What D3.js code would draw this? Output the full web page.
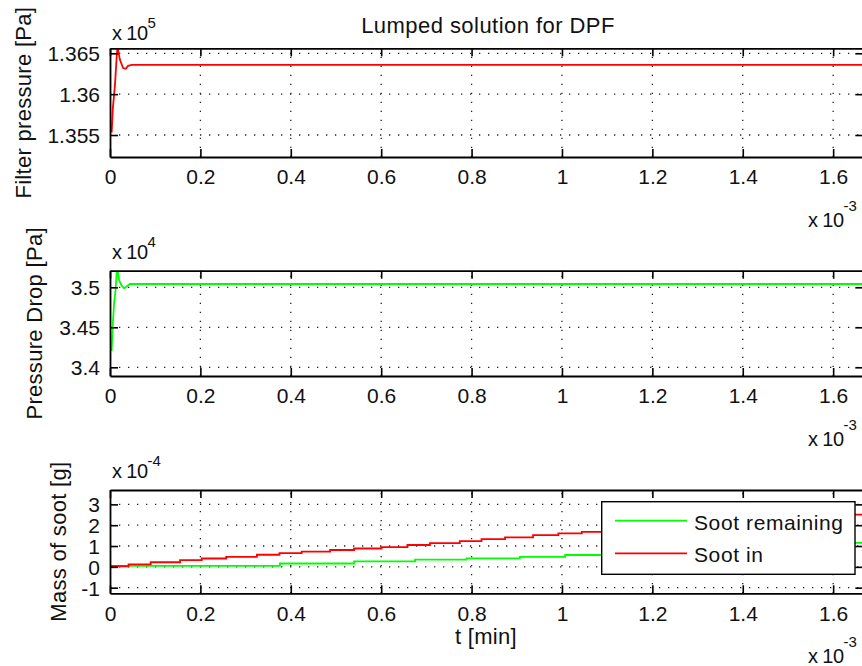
<!DOCTYPE html>
<html>
<head>
<meta charset="utf-8">
<script src="https://cdn.jsdelivr.net/npm/d3@7"></script>
<style>
  html, body { margin: 0; padding: 0; background: #fff; }
  svg { display: block; }
  text { font-family: "Liberation Sans", Arial, sans-serif; fill: #111; }
</style>
</head>
<body>
<svg id="fig" width="862" height="666"></svg>
<script>
// ---- data (time in units of 1e-3 min) ----
const xTicks = [0, 0.2, 0.4, 0.6, 0.8, 1.0, 1.2, 1.4, 1.6];
const tEnd = 1.6667;

// Filter pressure, x 1e5 Pa
const pressureT = [0, 0.0038, 0.006, 0.011, 0.0148, 0.016, 0.017, 0.022, 0.029, 0.035, 0.040, 0.048, 1.6667];
const pressureV = [1.3554, 1.35542, 1.35808, 1.36114, 1.36461, 1.36543, 1.36567, 1.3642, 1.36319, 1.3631, 1.36347, 1.36357, 1.36357];
const pressureTicks = [1.355, 1.36, 1.365];

// Pressure drop, x 1e4 Pa
const dropT = [0, 0.0037, 0.006, 0.009, 0.012, 0.0148, 0.017, 0.020, 0.025, 0.031, 0.036, 0.044, 1.6667];
const dropV = [3.4216, 3.4216, 3.4508, 3.48, 3.4945, 3.5183, 3.5207, 3.5091, 3.5029, 3.4988, 3.5008, 3.5041, 3.5041];
const dropTicks = [3.4, 3.45, 3.5];

// Mass of soot, x 1e-4 g (piecewise constant between samples)
const sootInT = [0, 0.041, 0.090, 0.155, 0.203, 0.257, 0.325, 0.375, 0.424, 0.487, 0.540, 0.601, 0.658, 0.708, 0.774, 0.822, 0.874, 0.936, 0.992, 1.044, 1.10, 1.16, 1.22, 1.28, 1.34, 1.40, 1.46, 1.52, 1.58, 1.64, 1.6667];
const sootInV = [0.03, 0.12, 0.22, 0.32, 0.40, 0.48, 0.58, 0.66, 0.73, 0.81, 0.88, 0.95, 1.05, 1.14, 1.24, 1.33, 1.42, 1.52, 1.61, 1.68, 1.76, 1.85, 1.94, 2.03, 2.11, 2.19, 2.28, 2.36, 2.44, 2.51, 2.51];
const sootRemT = [0, 0.376, 0.540, 0.675, 0.789, 0.907, 1.007, 1.11, 1.22, 1.33, 1.44, 1.55, 1.62, 1.6667];
const sootRemV = [0.05, 0.16, 0.26, 0.35, 0.41, 0.48, 0.57, 0.66, 0.76, 0.86, 0.96, 1.06, 1.15, 1.15];
const sootTicks = [-1, 0, 1, 2, 3];

const legendLabels = ["Soot remaining", "Soot in"];

// ---- layout ----
const svg = d3.select("#fig");
const left = 110, right = 863.3;
const x = d3.scaleLinear().domain([0, tEnd]).range([left, right]);

const panels = [
  { top: 48.3, bottom: 157, domain: [1.35231, 1.36561], ticks: pressureTicks,
    series: [{ t: pressureT, v: pressureV, color: "#ff0000", step: false }],
    ylabel: "Filter pressure [Pa]", ylabelX: 31, exp: "5", expGap: 8 },
  { top: 270.7, bottom: 376, domain: [3.38913, 3.52075], ticks: dropTicks,
    series: [{ t: dropT, v: dropV, color: "#00ff00", step: false }],
    ylabel: "Pressure Drop [Pa]", ylabelX: 42, exp: "4", expGap: 12 },
  { top: 490, bottom: 593.3, domain: [-1.27, 3.69], ticks: sootTicks,
    series: [
      { t: sootRemT, v: sootRemV, color: "#00ff00", step: true },
      { t: sootInT, v: sootInV, color: "#ff0000", step: true }
    ],
    ylabel: "Mass of soot [g]", ylabelX: 66, exp: "-4", expGap: 12 }
];

const fmt = d => String(+d.toFixed(4));

panels.forEach((p, i) => {
  const y = d3.scaleLinear().domain(p.domain).range([p.bottom, p.top]);
  const g = svg.append("g");

  // dotted grid
  const grid = g.append("g").attr("stroke", "#222").attr("stroke-width", 1.3)
    .attr("stroke-dasharray", "1.3 7.7");
  grid.selectAll("line.gx").data(xTicks.filter(d => d > 0)).join("line")
    .attr("x1", d => x(d)).attr("x2", d => x(d))
    .attr("y1", p.bottom).attr("y2", p.top);
  grid.selectAll("line.gy").data(p.ticks).join("line")
    .attr("x1", left).attr("x2", right)
    .attr("y1", d => y(d)).attr("y2", d => y(d));

  // data lines
  const clipId = "clip" + i;
  svg.append("clipPath").attr("id", clipId).append("rect")
    .attr("x", left).attr("y", p.top).attr("width", right - left).attr("height", p.bottom - p.top);
  p.series.forEach(s => {
    const pts = s.t.map((t, k) => [t, s.v[k]]);
    const line = d3.line().x(d => x(d[0])).y(d => y(d[1]))
      .curve(s.step ? d3.curveStepAfter : d3.curveLinear);
    g.append("path").datum(pts)
      .attr("clip-path", `url(#${clipId})`)
      .attr("fill", "none").attr("stroke", s.color).attr("stroke-width", 1.8)
      .attr("d", line);
  });

  // axes with inward ticks
  const tl = 8;
  const axB = g.append("g").attr("transform", `translate(0,${p.bottom})`)
    .call(d3.axisBottom(x).tickValues(xTicks).tickSize(-tl).tickSizeOuter(0)
      .tickPadding(12.5).tickFormat(fmt));
  const axT = g.append("g").attr("transform", `translate(0,${p.top})`)
    .call(d3.axisTop(x).tickValues(xTicks).tickSize(-tl).tickSizeOuter(0).tickFormat(""));
  const axL = g.append("g").attr("transform", `translate(${left},0)`)
    .call(d3.axisLeft(y).tickValues(p.ticks).tickSize(-tl).tickSizeOuter(0)
      .tickPadding(10).tickFormat(fmt));
  const axR = g.append("g").attr("transform", `translate(${right},0)`)
    .call(d3.axisRight(y).tickValues(p.ticks).tickSize(-tl).tickSizeOuter(0).tickFormat(""));
  [axB, axT, axL, axR].forEach(a => {
    a.select(".domain").attr("stroke", "#000").attr("stroke-width", 1.8);
    a.selectAll(".tick line").attr("stroke", "#000").attr("stroke-width", 1.6);
    a.selectAll(".tick text").attr("font-size", 21)
      .attr("font-family", "Liberation Sans, Arial, sans-serif").attr("fill", "#111");
  });
  axL.selectAll(".tick text").attr("dy", "0.36em");

  // y exponent label
  const ey = p.top - p.expGap;
  const et = g.append("text").attr("x", 112).attr("y", ey).attr("font-size", 20)
    .attr("letter-spacing", -0.6);
  et.append("tspan").text("x 10");
  et.append("tspan").attr("dy", -12).attr("font-size", 15).attr("letter-spacing", 0).text(p.exp);

  // x exponent label
  const xt = g.append("text").attr("x", 808).attr("y", p.bottom + 70).attr("font-size", 20)
    .attr("letter-spacing", -0.6);
  xt.append("tspan").text("x 10");
  xt.append("tspan").attr("dy", -16).attr("font-size", 15).attr("letter-spacing", 0).text("-3");

  // y label
  const cy = (p.top + p.bottom) / 2;
  g.append("text").attr("transform", `translate(${p.ylabelX},${cy}) rotate(-90)`)
    .attr("text-anchor", "middle").attr("font-size", 22).attr("letter-spacing", 0.3)
    .text(p.ylabel);
});

// title
svg.append("text").attr("x", 488).attr("y", 33).attr("text-anchor", "middle")
  .attr("font-size", 22).attr("letter-spacing", 0.45).text("Lumped solution for DPF");

// x label
svg.append("text").attr("x", 486).attr("y", 644).attr("text-anchor", "middle")
  .attr("font-size", 22).attr("letter-spacing", 0.3).text("t [min]");

// legend
const lg = svg.append("g");
lg.append("rect").attr("x", 601.7).attr("y", 501.7).attr("width", 253.3).attr("height", 72.6)
  .attr("fill", "#fff").attr("stroke", "#000").attr("stroke-width", 1.4);
const legendColors = ["#00ff00", "#ff0000"];
legendLabels.forEach((lab, k) => {
  const yy = 520.7 + k * 32.6;
  lg.append("line").attr("x1", 615).attr("x2", 687).attr("y1", yy).attr("y2", yy)
    .attr("stroke", legendColors[k]).attr("stroke-width", 1.8);
  lg.append("text").attr("x", 694).attr("y", yy + 9).attr("font-size", 21)
    .attr("letter-spacing", 0.6).text(lab);
});
</script>
</body>
</html>
